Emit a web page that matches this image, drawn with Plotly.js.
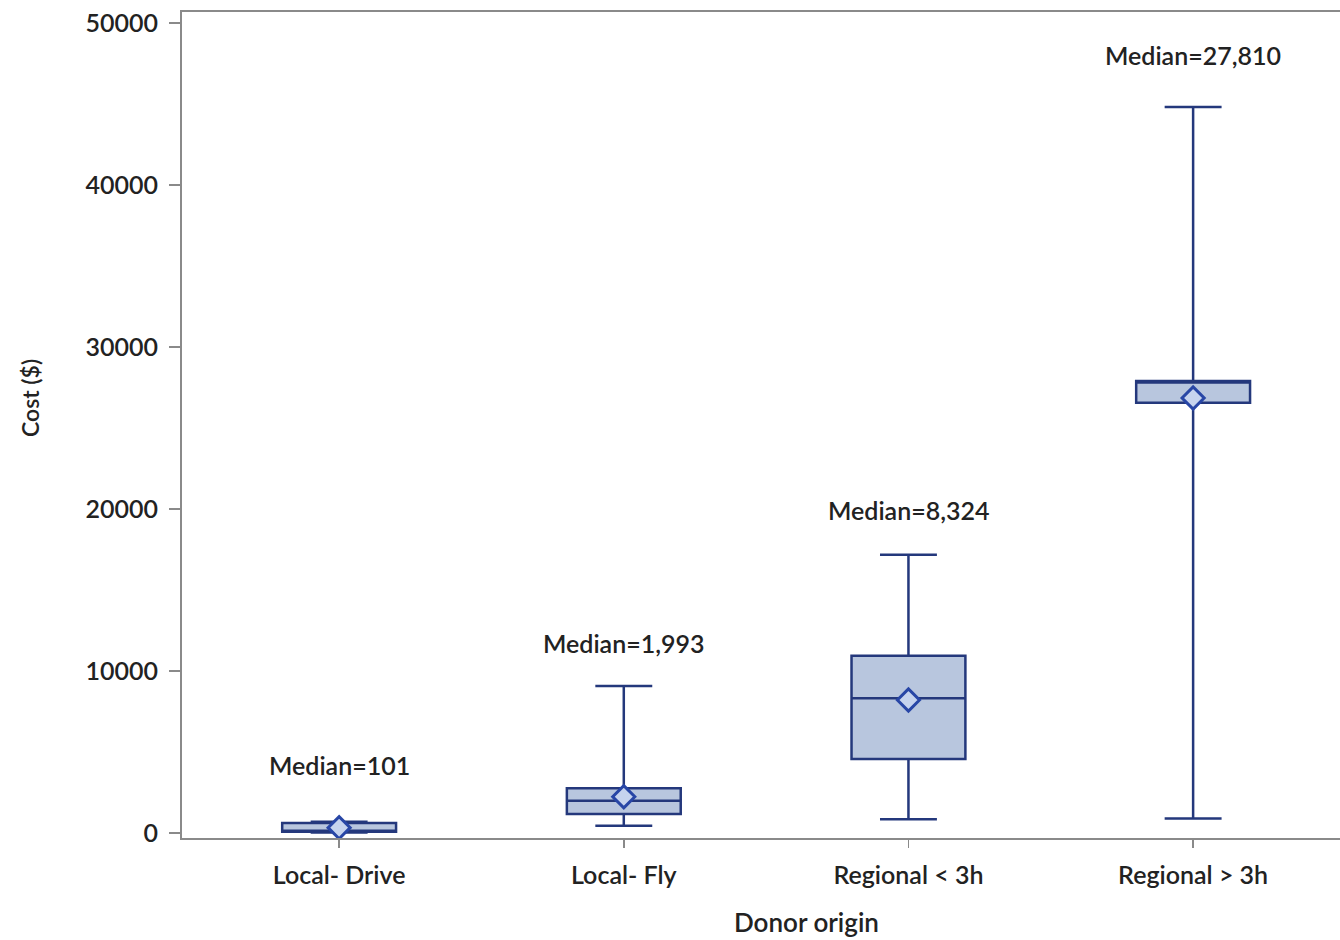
<!DOCTYPE html>
<html><head><meta charset="utf-8">
<script src="https://cdn.plot.ly/plotly-3.0.1.min.js"></script>
<style>html,body{margin:0;padding:0;background:#fff}</style>
</head><body>
<div id="chart" style="width:1340px;height:940px"></div>
<script>
const categories = ["Local- Drive", "Local- Fly", "Regional < 3h", "Regional > 3h"];
const lowerWhisker = [30, 450, 845, 900];
const q1Values = [80, 1170, 4570, 26560];
const medianValues = [101, 1993, 8324, 27810];
const q3Values = [620, 2760, 10940, 27900];
const upperWhisker = [700, 9070, 17180, 44815];
const meanValues = [330, 2240, 8210, 26850];
const medianLabels = ["Median=101", "Median=1,993", "Median=8,324", "Median=27,810"];
const labelYValues = [4200, 11700, 19950, 48000];
const yTicks = [0, 10000, 20000, 30000, 40000, 50000];
const xTitle = "Donor origin";
const yTitle = "Cost ($)";

const FONT = "Lato, 'Open Sans', sans-serif";
const boxTrace = {
  type: "box",
  x: categories,
  q1: q1Values,
  median: medianValues,
  q3: q3Values,
  lowerfence: lowerWhisker,
  upperfence: upperWhisker,
  width: 0.4,
  whiskerwidth: 0.5,
  fillcolor: "#b8c6de",
  line: {color: "#24387c", width: 2.5},
  boxpoints: false,
  hoverinfo: "skip",
  showlegend: false
};
const meanTrace = {
  type: "scatter",
  mode: "markers",
  x: categories,
  y: meanValues,
  marker: {symbol: "diamond", size: 17, color: "#c6d3ee", line: {color: "#2846a6", width: 3}},
  showlegend: false,
  hoverinfo: "skip"
};
const annotations = categories.map((c, i) => ({
  x: c, y: labelYValues[i], xref: "x", yref: "y",
  text: medianLabels[i], showarrow: false,
  font: {family: FONT, size: 25, weight: 600, color: "#222"}
}));
annotations.push({
  xref: "paper", yref: "paper", x: (806 - 182) / 1158, y: (838 - 922) / 826,
  xanchor: "center", yanchor: "middle", showarrow: false,
  text: xTitle, font: {family: FONT, size: 26, weight: 600, color: "#222"}
});
annotations.push({
  xref: "paper", yref: "paper", x: (30 - 182) / 1158, y: (838 - 398) / 826,
  xanchor: "center", yanchor: "middle", showarrow: false, textangle: -90,
  text: yTitle, font: {family: FONT, size: 23, weight: 600, color: "#222"}
});

const layout = {
  width: 1340, height: 940,
  margin: {l: 182, r: 0, t: 12, b: 102},
  paper_bgcolor: "#fff", plot_bgcolor: "#fff",
  font: {family: FONT, size: 24, color: "#222"},
  xaxis: {
    type: "category",
    range: [-0.552, 3.516],
    showline: true, mirror: true, linecolor: "#8a8a8a", linewidth: 2,
    ticks: "outside", ticklen: 8, tickcolor: "#8a8a8a", tickwidth: 1.5,
    ticklabelstandoff: 6,
    showgrid: false, zeroline: false,
    tickfont: {family: FONT, size: 25, weight: 600, color: "#222"}
  },
  yaxis: {
    range: [-309, 50680],
    tickvals: yTicks,
    ticktext: yTicks.map(String),
    showline: true, linecolor: "#8a8a8a", linewidth: 2,
    ticks: "outside", ticklen: 11, tickcolor: "#8a8a8a", tickwidth: 1.5,
    ticklabelstandoff: 6,
    showgrid: false, zeroline: false,
    tickfont: {family: FONT, size: 25, weight: 600, color: "#222"}
  },
  annotations: annotations
};
Plotly.newPlot("chart", [boxTrace, meanTrace], layout, {displayModeBar: false, staticPlot: true});
</script>
</body></html>
